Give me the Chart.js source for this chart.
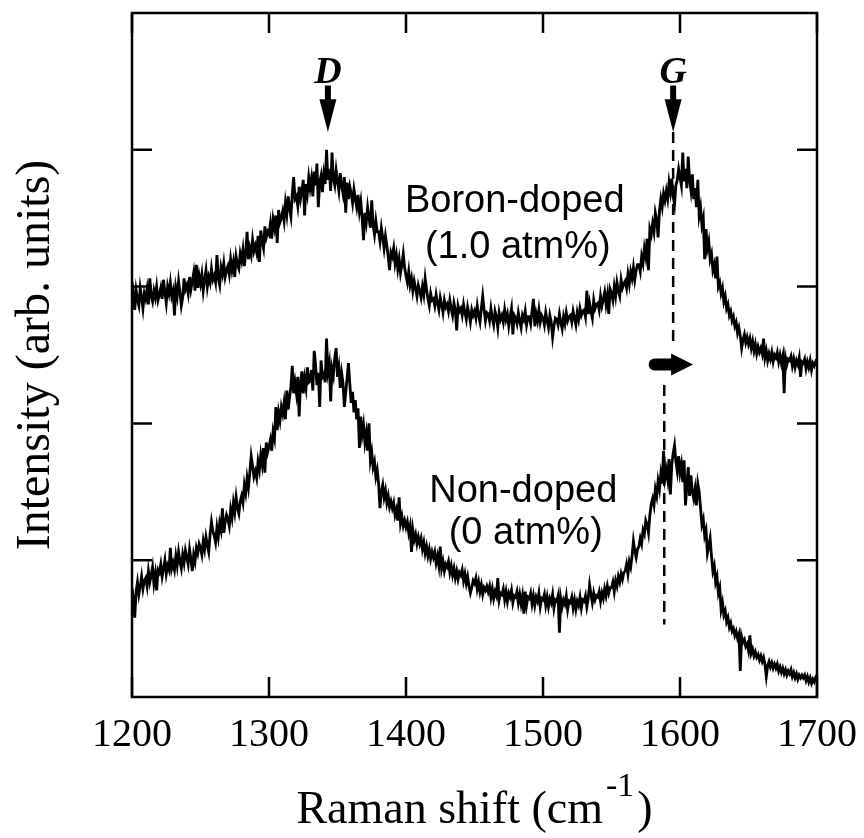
<!DOCTYPE html>
<html><head><meta charset="utf-8">
<script src="https://cdn.jsdelivr.net/npm/chart.js@4.4.0/dist/chart.umd.min.js"></script>
<style>html,body{margin:0;padding:0;background:#fff;}canvas{display:block;}</style>
</head><body>
<canvas id="c" width="864" height="838"></canvas>
<script>
// Raman shift (cm^-1), sampled every 1 cm^-1
const wavenumbers = [
1200,1201,1202,1203,1204,1205,1206,1207,1208,1209,1210,1211,1212,1213,1214,1215,1216,1217,1218,1219,
1220,1221,1222,1223,1224,1225,1226,1227,1228,1229,1230,1231,1232,1233,1234,1235,1236,1237,1238,1239,
1240,1241,1242,1243,1244,1245,1246,1247,1248,1249,1250,1251,1252,1253,1254,1255,1256,1257,1258,1259,
1260,1261,1262,1263,1264,1265,1266,1267,1268,1269,1270,1271,1272,1273,1274,1275,1276,1277,1278,1279,
1280,1281,1282,1283,1284,1285,1286,1287,1288,1289,1290,1291,1292,1293,1294,1295,1296,1297,1298,1299,
1300,1301,1302,1303,1304,1305,1306,1307,1308,1309,1310,1311,1312,1313,1314,1315,1316,1317,1318,1319,
1320,1321,1322,1323,1324,1325,1326,1327,1328,1329,1330,1331,1332,1333,1334,1335,1336,1337,1338,1339,
1340,1341,1342,1343,1344,1345,1346,1347,1348,1349,1350,1351,1352,1353,1354,1355,1356,1357,1358,1359,
1360,1361,1362,1363,1364,1365,1366,1367,1368,1369,1370,1371,1372,1373,1374,1375,1376,1377,1378,1379,
1380,1381,1382,1383,1384,1385,1386,1387,1388,1389,1390,1391,1392,1393,1394,1395,1396,1397,1398,1399,
1400,1401,1402,1403,1404,1405,1406,1407,1408,1409,1410,1411,1412,1413,1414,1415,1416,1417,1418,1419,
1420,1421,1422,1423,1424,1425,1426,1427,1428,1429,1430,1431,1432,1433,1434,1435,1436,1437,1438,1439,
1440,1441,1442,1443,1444,1445,1446,1447,1448,1449,1450,1451,1452,1453,1454,1455,1456,1457,1458,1459,
1460,1461,1462,1463,1464,1465,1466,1467,1468,1469,1470,1471,1472,1473,1474,1475,1476,1477,1478,1479,
1480,1481,1482,1483,1484,1485,1486,1487,1488,1489,1490,1491,1492,1493,1494,1495,1496,1497,1498,1499,
1500,1501,1502,1503,1504,1505,1506,1507,1508,1509,1510,1511,1512,1513,1514,1515,1516,1517,1518,1519,
1520,1521,1522,1523,1524,1525,1526,1527,1528,1529,1530,1531,1532,1533,1534,1535,1536,1537,1538,1539,
1540,1541,1542,1543,1544,1545,1546,1547,1548,1549,1550,1551,1552,1553,1554,1555,1556,1557,1558,1559,
1560,1561,1562,1563,1564,1565,1566,1567,1568,1569,1570,1571,1572,1573,1574,1575,1576,1577,1578,1579,
1580,1581,1582,1583,1584,1585,1586,1587,1588,1589,1590,1591,1592,1593,1594,1595,1596,1597,1598,1599,
1600,1601,1602,1603,1604,1605,1606,1607,1608,1609,1610,1611,1612,1613,1614,1615,1616,1617,1618,1619,
1620,1621,1622,1623,1624,1625,1626,1627,1628,1629,1630,1631,1632,1633,1634,1635,1636,1637,1638,1639,
1640,1641,1642,1643,1644,1645,1646,1647,1648,1649,1650,1651,1652,1653,1654,1655,1656,1657,1658,1659,
1660,1661,1662,1663,1664,1665,1666,1667,1668,1669,1670,1671,1672,1673,1674,1675,1676,1677,1678,1679,
1680,1681,1682,1683,1684,1685,1686,1687,1688,1689,1690,1691,1692,1693,1694,1695,1696,1697,1698,1699,
1700];

// Boron-doped (1.0 atm%) spectrum, offset intensity (arb. units)
const boronDoped = [
2.88,2.95,2.83,2.97,2.90,2.86,2.99,2.92,2.84,2.95, 2.91,2.98,2.87,3.06,2.93,2.89,2.97,2.92,3.00,2.90,
2.94,2.99,2.91,3.05,2.96,2.88,3.00,2.95,3.03,2.93, 2.97,2.79,2.99,2.93,3.04,2.96,2.86,2.92,3.06,2.98,
3.01,2.95,3.07,2.98,3.04,3.10,2.97,3.16,2.99,3.08, 3.02,3.09,2.97,3.05,3.12,3.00,3.07,3.03,3.13,3.05,
3.08,3.03,3.23,3.06,3.01,3.14,3.09,3.17,3.07,3.12, 3.15,3.09,3.20,3.12,3.18,3.07,3.22,3.16,3.13,3.24,
3.19,3.27,3.15,3.24,3.40,3.20,3.28,3.23,3.34,3.26, 3.30,3.25,3.37,3.18,3.41,3.33,3.28,3.44,3.36,3.40,
3.38,3.46,3.35,3.49,3.43,3.52,3.32,3.56,3.47,3.50, 3.55,3.48,3.61,3.53,3.66,3.57,3.51,3.68,3.80,3.64,
3.66,3.59,3.73,3.64,3.70,3.78,3.52,3.75,3.68,3.80, 3.72,3.79,3.66,3.84,3.74,3.90,3.58,3.76,3.81,3.69,
3.82,3.75,4.00,3.78,3.86,3.70,3.98,3.79,3.74,3.85, 3.77,3.70,3.83,3.74,3.68,3.80,3.54,3.76,3.64,3.73,
3.68,3.61,3.71,3.64,3.58,3.67,3.55,3.62,3.50,3.34, 3.54,3.47,3.58,3.50,3.43,3.63,3.45,3.38,3.48,3.40,
3.40,3.33,3.43,3.36,3.28,3.37,3.30,3.22,3.12,3.25, 3.22,3.28,3.17,3.23,3.13,3.20,3.10,3.16,3.24,3.14,
3.08,3.03,3.11,3.01,3.06,2.97,3.04,2.99,2.93,3.01, 2.97,2.92,3.00,2.94,3.06,2.98,2.91,2.86,2.95,2.90,
2.91,2.86,2.94,2.88,2.83,2.92,2.87,2.81,2.90,2.85, 2.87,2.82,2.90,2.84,2.79,2.88,2.83,2.68,2.86,2.82,
2.84,2.79,2.87,2.81,2.76,2.85,2.80,2.74,2.83,2.79, 2.82,2.77,2.86,2.79,2.74,2.84,2.93,2.83,2.75,2.81,
2.80,2.75,2.84,2.77,2.72,2.82,2.78,2.70,2.81,2.76, 2.79,2.74,2.83,2.76,2.80,2.71,2.78,2.84,2.65,2.79,
2.77,2.73,2.81,2.75,2.70,2.79,2.76,2.82,2.72,2.78, 2.78,2.73,2.82,2.91,2.71,2.80,2.75,2.83,2.74,2.79,
2.77,2.72,2.81,2.75,2.70,2.79,2.74,2.63,2.71,2.77, 2.76,2.72,2.80,2.74,2.69,2.78,2.73,2.81,2.75,2.78,
2.79,2.74,2.82,2.77,2.72,2.81,2.76,2.84,2.79,2.82, 2.83,2.78,2.97,2.80,2.88,2.82,2.77,2.90,2.84,2.87,
2.88,2.83,2.93,2.86,2.91,2.96,2.87,2.94,2.80,2.98, 2.95,2.90,3.00,2.93,3.03,2.97,2.93,3.05,2.99,3.02,
3.04,2.99,3.09,3.02,3.11,3.06,3.14,3.05,3.12,3.16, 3.16,3.11,3.22,3.17,3.28,3.22,3.35,3.12,3.42,3.38,
3.46,3.40,3.54,3.49,3.36,3.55,3.64,3.58,3.68,3.63, 3.70,3.64,3.76,3.69,3.79,3.66,3.60,3.74,3.78,3.86,
3.80,3.74,3.98,3.77,3.86,3.72,3.95,3.78,3.70,3.82, 3.64,3.72,3.58,3.78,3.52,3.58,3.45,3.50,3.20,3.42,
3.28,3.33,3.20,3.24,3.12,3.16,3.06,3.22,3.00,3.03, 2.95,2.99,2.89,2.93,2.84,2.87,2.79,2.82,2.75,2.78,
2.71,2.74,2.66,2.70,2.64,2.55,2.61,2.65,2.59,2.63, 2.58,2.62,2.55,2.60,2.53,2.58,2.51,2.56,2.52,2.55,
2.51,2.62,2.48,2.53,2.46,2.51,2.47,2.52,2.45,2.50, 2.48,2.52,2.45,2.50,2.44,2.49,2.22,2.48,2.43,2.47,
2.46,2.49,2.42,2.47,2.41,2.46,2.43,2.48,2.34,2.45, 2.44,2.47,2.40,2.45,2.41,2.46,2.39,2.44,2.42,2.45,
2.43];

// Non-doped (0 atm%) spectrum
const nonDoped = [
0.80,0.72,0.58,0.77,0.84,0.75,0.81,0.88,0.79,0.85, 0.87,0.81,0.92,0.84,0.89,0.95,0.83,0.90,0.78,0.93,
0.91,0.97,0.88,0.94,1.00,0.90,0.96,0.93,1.09,0.94, 0.98,0.93,1.03,0.96,1.06,0.99,0.94,1.04,0.98,1.07,
1.02,0.97,1.08,1.01,0.92,1.04,0.99,1.09,1.05,1.12, 1.09,1.04,1.14,1.08,1.17,1.11,1.06,1.19,1.28,1.21,
1.18,1.13,1.24,1.17,1.27,1.22,1.38,1.20,1.28,1.33, 1.30,1.25,1.37,1.31,1.42,1.35,1.46,1.38,1.34,1.43,
1.47,1.42,1.55,1.49,1.60,1.53,1.64,1.76,1.69,1.61, 1.65,1.60,1.72,1.66,1.77,1.70,1.82,1.64,1.86,1.79,
1.83,1.88,1.80,1.94,1.89,2.12,1.95,2.08,2.02,2.12, 2.07,2.15,2.03,2.24,2.10,2.19,2.27,2.42,2.22,2.30,
2.22,2.34,2.05,2.29,2.38,2.22,2.33,2.26,2.41,2.30, 2.31,2.39,2.24,2.53,2.43,2.28,2.37,2.12,2.46,2.34,
2.36,2.30,2.62,2.38,2.44,2.16,2.40,2.35,2.48,2.55, 2.34,2.41,2.26,2.37,2.30,2.12,2.22,2.33,2.44,2.29,
2.15,2.23,2.08,2.17,2.03,2.11,1.82,2.05,1.92,1.99, 1.86,1.93,1.80,2.00,1.73,1.79,1.68,1.72,1.61,1.66,
1.56,1.38,1.50,1.55,1.46,1.51,1.42,1.47,1.39,1.43, 1.38,1.42,1.33,1.37,1.29,1.46,1.27,1.32,1.25,1.29,
1.24,1.28,1.20,1.25,1.06,1.22,1.15,1.19,1.12,1.17, 1.12,1.16,1.08,1.13,1.05,1.10,1.03,1.08,1.01,1.06,
1.02,1.06,0.98,1.03,0.96,1.10,0.94,0.99,0.92,0.97, 0.95,0.99,0.91,0.96,0.89,0.94,0.87,0.92,0.86,0.91,
0.89,0.93,0.85,0.90,0.83,0.88,0.81,0.76,0.80,0.85, 0.83,0.87,0.79,0.84,0.77,0.82,0.75,0.80,0.78,0.81,
0.77,0.81,0.73,0.79,0.72,0.77,0.74,0.87,0.71,0.76, 0.75,0.79,0.71,0.77,0.70,0.76,0.73,0.78,0.69,0.74,
0.73,0.77,0.69,0.75,0.68,0.74,0.61,0.77,0.67,0.73, 0.72,0.76,0.68,0.74,0.67,0.73,0.70,0.76,0.66,0.72,
0.71,0.75,0.67,0.73,0.66,0.72,0.69,0.75,0.65,0.71, 0.70,0.74,0.47,0.72,0.66,0.71,0.68,0.74,0.64,0.70,
0.69,0.73,0.65,0.71,0.64,0.70,0.67,0.73,0.65,0.71, 0.70,0.74,0.66,0.72,0.82,0.75,0.69,0.76,0.71,0.74,
0.73,0.77,0.70,0.76,0.72,0.79,0.74,0.81,0.76,0.80, 0.80,0.84,0.77,0.85,0.81,0.88,0.84,0.90,0.86,0.91,
0.92,0.97,0.90,0.99,0.95,1.03,1.14,1.07,1.02,1.08, 1.10,1.16,1.12,1.22,1.19,1.29,1.26,1.20,1.33,1.41,
1.45,1.40,1.52,1.47,1.58,1.52,1.63,1.56,1.80,1.60, 1.66,1.59,1.74,1.48,1.70,1.78,1.84,1.72,1.65,1.76,
1.64,1.70,1.57,1.73,1.40,1.54,1.68,1.47,1.62,1.50, 1.45,1.52,1.40,1.56,1.50,1.38,1.26,1.30,1.18,1.22,
1.05,1.10,1.16,1.03,0.92,0.96,0.84,0.88,0.76,0.80, 0.64,0.69,0.60,0.63,0.55,0.58,0.51,0.54,0.48,0.50,
0.45,0.48,0.43,0.46,0.19,0.44,0.40,0.42,0.37,0.39, 0.34,0.45,0.32,0.35,0.30,0.33,0.29,0.31,0.27,0.30,
0.26,0.29,0.24,0.15,0.23,0.26,0.22,0.25,0.21,0.24, 0.21,0.24,0.19,0.22,0.18,0.21,0.17,0.20,0.16,0.19,
0.17,0.20,0.15,0.18,0.14,0.17,0.13,0.16,0.14,0.16, 0.14,0.16,0.12,0.15,0.11,0.14,0.10,0.13,0.11,0.14,
0.12];

const xTickLabels = ['1200','1300','1400','1500','1600','1700'];
const yTickValues = [1, 2, 3, 4];
const peakLabels = ['D', 'G'];
const peakPositions = [1343, 1595];
const seriesLabels = [['Boron-doped', '(1.0 atm%)'], ['Non-doped', '(0 atm%)']];

const toPoints = (vals) => vals.map((v, i) => ({x: wavenumbers[i], y: v}));

const SERIF = '"Liberation Serif", "Times New Roman", serif';
const SANS = '"Liberation Sans", Arial, sans-serif';

const decor = {
  id: 'decor',
  afterDraw(chart) {
    const {ctx, chartArea: a, scales: {x, y}} = chart;
    const X = v => x.getPixelForValue(v), Y = v => y.getPixelForValue(v);
    ctx.save();
    ctx.strokeStyle = '#000'; ctx.fillStyle = '#000';
    // frame
    ctx.lineWidth = 2.5;
    ctx.strokeRect(a.left, a.top, a.right - a.left, a.bottom - a.top);
    // inward ticks
    ctx.beginPath();
    x.ticks.forEach(t => {
      const px = X(t.value);
      ctx.moveTo(px, a.bottom); ctx.lineTo(px, a.bottom - 20);
      ctx.moveTo(px, a.top); ctx.lineTo(px, a.top + 20);
    });
    yTickValues.forEach(v => {
      const py = Y(v);
      ctx.moveTo(a.left, py); ctx.lineTo(a.left + 20, py);
      ctx.moveTo(a.right, py); ctx.lineTo(a.right - 20, py);
    });
    ctx.stroke();

    // peak labels and down arrows
    ctx.font = 'bold italic 38px ' + SERIF;
    ctx.textAlign = 'center'; ctx.textBaseline = 'alphabetic';
    peakLabels.forEach((lab, i) => {
      const px = X(peakPositions[i]);
      ctx.fillText(lab, px, Y(4.49));
      ctx.fillRect(px - 3, Y(4.47), 6, Y(4.35) - Y(4.47));
      ctx.beginPath();
      ctx.moveTo(px - 8.5, Y(4.37));
      ctx.lineTo(px + 8.5, Y(4.37));
      ctx.lineTo(px, Y(4.13));
      ctx.closePath(); ctx.fill();
    });

    // dashed guide lines
    ctx.setLineDash([11, 7]);
    ctx.lineWidth = 2.5;
    ctx.beginPath();
    ctx.moveTo(X(1595), Y(4.13)); ctx.lineTo(X(1595), Y(2.56));
    ctx.moveTo(X(1588.5), Y(2.28)); ctx.lineTo(X(1588.5), Y(0.53));
    ctx.stroke();
    ctx.setLineDash([]);

    // shift arrow
    const yA = Y(2.43);
    ctx.lineCap = 'round';
    ctx.lineWidth = 12;
    ctx.beginPath(); ctx.moveTo(X(1581.5), yA); ctx.lineTo(X(1595), yA); ctx.stroke();
    ctx.lineCap = 'butt';
    ctx.beginPath();
    ctx.moveTo(X(1593.5), yA - 11);
    ctx.lineTo(X(1609.5), yA);
    ctx.lineTo(X(1593.5), yA + 11);
    ctx.closePath(); ctx.fill();

    // series labels
    ctx.font = '38px ' + SANS;
    ctx.fillText(seriesLabels[0][0], X(1479.4), Y(3.543));
    ctx.fillText(seriesLabels[0][1], X(1481.6), Y(3.207));
    ctx.fillText(seriesLabels[1][0], X(1485.6), Y(1.423));
    ctx.fillText(seriesLabels[1][1], X(1487.4), Y(1.116));

    // x axis title with superscript
    const main = 'Raman shift (cm', sup = '-1', close = ')';
    ctx.font = '46px ' + SERIF;
    const wMain = ctx.measureText(main).width, wClose = ctx.measureText(close).width;
    ctx.font = '34px ' + SERIF;
    const wSup = ctx.measureText(sup).width;
    const total = wMain + 3 + wSup + 3 + wClose;
    const sx = (a.left + a.right) / 2 - total / 2;
    const base = 823;
    ctx.textAlign = 'left';
    ctx.font = '46px ' + SERIF;
    ctx.fillText(main, sx, base);
    ctx.font = '34px ' + SERIF;
    ctx.fillText(sup, sx + wMain + 3, base - 27);
    ctx.font = '46px ' + SERIF;
    ctx.fillText(close, sx + wMain + 3 + wSup + 3, base);
    ctx.restore();
  }
};

new Chart(document.getElementById('c'), {
  type: 'line',
  data: {
    datasets: [
      {label: 'Boron-doped (1.0 atm%)', data: toPoints(boronDoped), borderColor: '#000', borderWidth: 2.8, pointRadius: 0, tension: 0, fill: false},
      {label: 'Non-doped (0 atm%)', data: toPoints(nonDoped), borderColor: '#000', borderWidth: 2.8, pointRadius: 0, tension: 0, fill: false}
    ]
  },
  options: {
    responsive: false,
    devicePixelRatio: 1,
    animation: false,
    layout: {padding: {left: 0, right: 47, top: 13, bottom: 0}},
    plugins: {legend: {display: false}, tooltip: {enabled: false}},
    scales: {
      x: {
        type: 'linear', position: 'bottom', min: 1200, max: 1700,
        grid: {display: false}, border: {display: false},
        ticks: {
          stepSize: 100, color: '#000', padding: 6, maxRotation: 0,
          font: {family: SERIF, size: 40},
          callback: (v) => { const i = xTickLabels.indexOf(String(v)); return i >= 0 ? xTickLabels[i] : ''; }
        },
        afterFit: (s) => { s.height = 141; s.paddingLeft = 0; s.paddingRight = 0; }
      },
      y: {
        type: 'linear', position: 'left', min: 0, max: 5,
        grid: {display: false}, border: {display: false},
        ticks: {display: false, stepSize: 1},
        title: {display: true, text: 'Intensity (arb. units)', color: '#000',
                font: {family: SERIF, size: 48}, padding: {top: 8, bottom: 0}},
        afterFit: (s) => { s.width = 132; }
      }
    }
  },
  plugins: [decor]
});
</script>
</body></html>
